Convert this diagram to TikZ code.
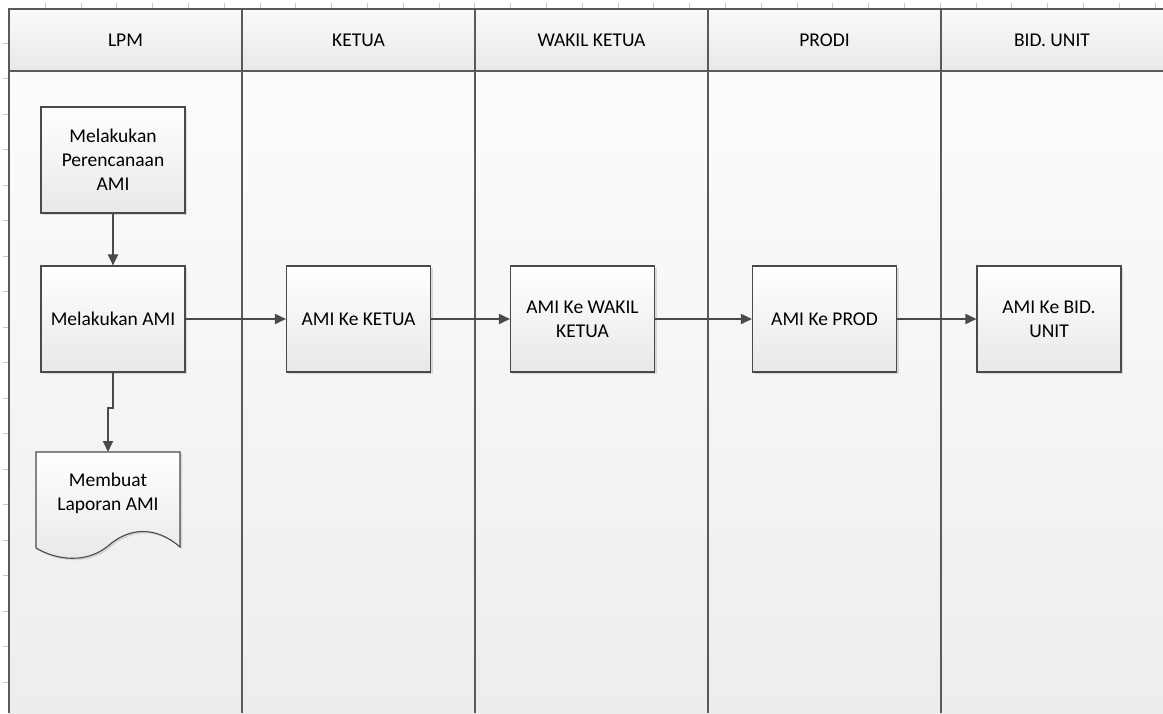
\documentclass[tikz,border=0pt]{standalone}
\usepackage{fontspec}
\setmainfont{Carlito}
\usetikzlibrary{arrows.meta,shadows}
\definecolor{lineC}{HTML}{4A4A4A}
\definecolor{laneC}{HTML}{5A5A5A}
\tikzset{
  procbox/.style={draw=lineC, line width=1.1pt, top color=white, bottom color=black!9,
    minimum width=144pt, minimum height=106pt, align=center, inner sep=2pt,
    font=\fontsize{19.5}{24}\selectfont,
    drop shadow={shadow xshift=2pt, shadow yshift=-2pt, opacity=0.25, fill=black!50}},
  hdr/.style={font=\fontsize{19.5}{24}\selectfont, anchor=center},
  arr/.style={draw=lineC, line width=1.8pt, -{Triangle[length=11pt,width=10pt]}},
  lane/.style={draw=laneC, line width=1.2pt},
  tick/.style={draw=black!22, line width=0.6pt},
  doctext/.style={align=center, font=\fontsize{19.5}{24}\selectfont, inner sep=0pt}
}
\begin{document}
\begin{tikzpicture}[x=1pt,y=-1pt]
\useasboundingbox (0,0) rectangle (1163,713);
\fill[white] (0,0) rectangle (1163,713);
% ruler ticks
\foreach \i in {0,...,31} { \draw[tick] (45+35.8*\i,3) -- (45+35.8*\i,9); }
\foreach \i in {0,...,19} { \draw[tick] (3,43+35.5*\i) -- (9,43+35.5*\i); }
% pool background
\shade[top color=black!1, bottom color=black!7] (9,71) rectangle (1163,713);
\shade[top color=black!2, bottom color=black!9] (9,9) rectangle (1163,71);
% lane lines
\draw[lane] (1163,9) -- (9,9) -- (9,713);
\draw[lane] (9,71) -- (1163,71);
\foreach \x in {242,475,708,941} { \draw[lane] (\x,9) -- (\x,713); }
% headers
\node[hdr] (h1) at (125.5,40) {LPM};
\node[hdr] (h2) at (358.5,40) {KETUA};
\node[hdr] (h3) at (591.5,40) {WAKIL KETUA};
\node[hdr] (h4) at (824.5,40) {PRODI};
\node[hdr] (h5) at (1052,40) {BID. UNIT};
% process boxes
\node[procbox] (b1) at (113,160) {Melakukan\\Perencanaan\\AMI};
\node[procbox] (b2) at (113,319) {Melakukan AMI};
\node[procbox] (k) at (358.5,319) {AMI Ke KETUA};
\node[procbox] (w) at (582.5,319) {AMI Ke WAKIL\\KETUA};
\node[procbox] (p) at (824.5,319) {AMI Ke PROD};
\node[procbox] (bu) at (1049,319) {AMI Ke BID.\\UNIT};
% document shape
\fill[black!50, opacity=0.25, xshift=2pt, yshift=-2pt]
  (36,452) -- (180,452) -- (180,547)
  .. controls (155,525) and (128,528) .. (108,546)
  .. controls (86,564) and (56,560) .. (36,548) -- cycle;
\shade[top color=white, bottom color=black!9, draw=lineC, line width=1.1pt]
  (36,452) -- (180,452) -- (180,547)
  .. controls (155,525) and (128,528) .. (108,546)
  .. controls (86,564) and (56,560) .. (36,548) -- cycle;
\coordinate (doc) at (108,452);
\node[doctext] (doctxt) at (108,493) {Membuat\\Laporan AMI};
% connectors
\coordinate (jog) at (108,408);
\draw[arr] (b1) -- (b2);
\draw[arr] (b2.south) |- (jog) -- (doc);
\draw[arr] (b2) -- (k);
\draw[arr] (k) -- (w);
\draw[arr] (w) -- (p);
\draw[arr] (p) -- (bu);
\end{tikzpicture}
\end{document}
